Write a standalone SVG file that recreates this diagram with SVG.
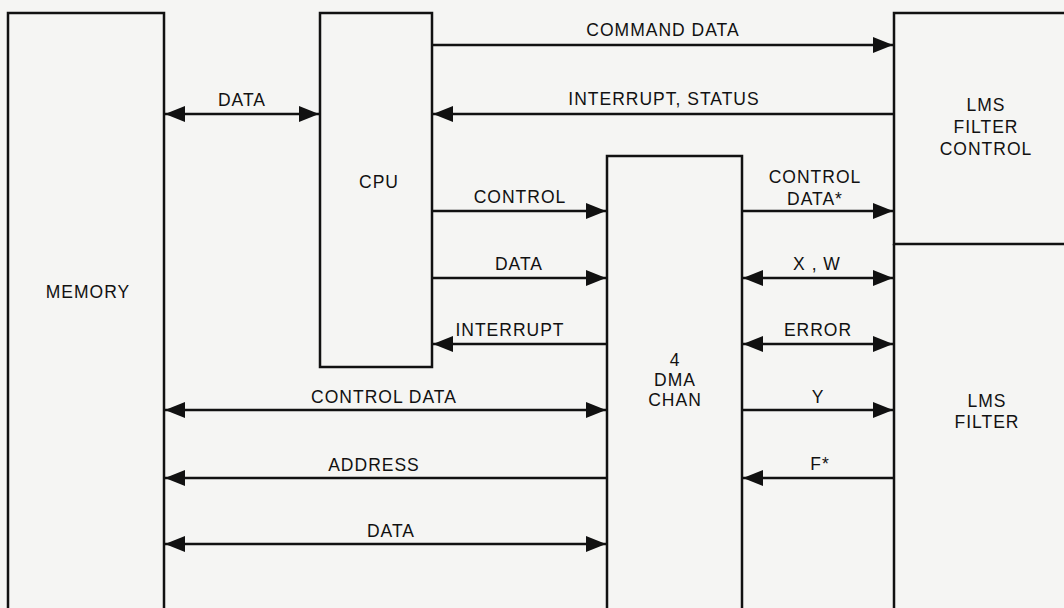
<svg xmlns="http://www.w3.org/2000/svg" width="1064" height="608" viewBox="0 0 1064 608">
<style>
.box{fill:none;stroke:#111;stroke-width:2.5}
.ln{fill:none;stroke:#111;stroke-width:2.5}
.end{marker-end:url(#ah)}
.start{marker-start:url(#ah)}
text{font-family:"Liberation Sans",Arial,sans-serif;font-size:17.5px;fill:#111;text-anchor:middle;letter-spacing:1px}
</style>
<defs>
<marker id="ah" viewBox="0 0 20 16" refX="20" refY="8" markerWidth="20" markerHeight="16" markerUnits="userSpaceOnUse" orient="auto-start-reverse">
<path d="M0,0 L20,8 L0,16 Z" fill="#111"/>
</marker>
</defs>
<rect width="1064" height="608" fill="#f5f5f3"/>
<g id="memory">
<path class="box" d="M8,608 V13 H164 V608"/>
<text x="88" y="298">MEMORY</text>
</g>
<g id="cpu">
<rect class="box" x="320" y="13" width="112" height="354"/>
<text x="379" y="188">CPU</text>
</g>
<g id="dma">
<path class="box" d="M607,608 V156 H742 V608"/>
<text x="675" y="366">4</text>
<text x="675" y="386">DMA</text>
<text x="675" y="406">CHAN</text>
</g>
<g id="lms-filter-control">
<path class="box" d="M1064,13 H894 V244 H1064"/>
<text x="986" y="111">LMS</text>
<text x="986" y="133">FILTER</text>
<text x="986" y="155">CONTROL</text>
</g>
<g id="lms-filter">
<path class="box" d="M894,244 V608"/>
<text x="987" y="407">LMS</text>
<text x="987" y="428">FILTER</text>
</g>
<g id="connectors">
<line class="ln start end" x1="165" y1="114" x2="319" y2="114"/>
<text x="242" y="106">DATA</text>
<line class="ln end" x1="433" y1="45" x2="893" y2="45"/>
<text x="663" y="36">COMMAND DATA</text>
<line class="ln end" x1="893" y1="114" x2="433" y2="114"/>
<text x="664" y="105">INTERRUPT, STATUS</text>
<line class="ln end" x1="433" y1="211" x2="606" y2="211"/>
<text x="520" y="203">CONTROL</text>
<line class="ln end" x1="433" y1="278" x2="606" y2="278"/>
<text x="519" y="270">DATA</text>
<line class="ln end" x1="606" y1="344" x2="433" y2="344"/>
<text x="510" y="336">INTERRUPT</text>
<line class="ln start end" x1="165" y1="410" x2="606" y2="410"/>
<text x="384" y="403">CONTROL DATA</text>
<line class="ln end" x1="606" y1="478" x2="165" y2="478"/>
<text x="374" y="471">ADDRESS</text>
<line class="ln start end" x1="165" y1="544" x2="606" y2="544"/>
<text x="391" y="537">DATA</text>
<line class="ln end" x1="743" y1="211" x2="893" y2="211"/>
<text x="815" y="183">CONTROL</text>
<text x="815" y="205">DATA*</text>
<line class="ln start end" x1="743" y1="278" x2="893" y2="278"/>
<text x="817" y="270">X , W</text>
<line class="ln start end" x1="743" y1="344" x2="893" y2="344"/>
<text x="818" y="336">ERROR</text>
<line class="ln end" x1="743" y1="410" x2="893" y2="410"/>
<text x="818" y="403">Y</text>
<line class="ln end" x1="893" y1="478" x2="743" y2="478"/>
<text x="820" y="470">F*</text>
</g>
</svg>
